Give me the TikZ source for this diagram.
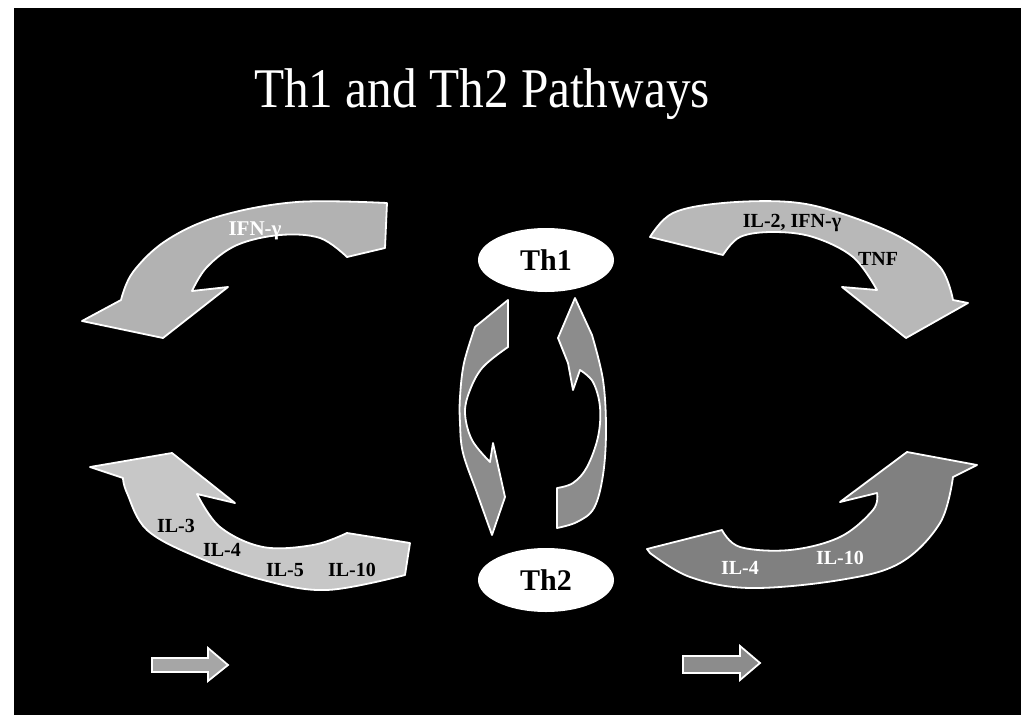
\documentclass[tikz,border=0pt]{standalone}
\usepackage{fontspec}
\setmainfont{Liberation Serif}
\usetikzlibrary{shapes.geometric}
\begin{document}
\begin{tikzpicture}[x=1pt,y=-1pt,
  band/.style={draw=white,line width=1.8pt,line join=round},
  cell/.style={ellipse,fill=white,minimum width=136pt,minimum height=64pt,inner sep=0pt,
    font=\fontsize{30}{32}\selectfont\bfseries,text=black},
  lbl/.style={font=\fontsize{20}{22}\selectfont\bfseries,inner sep=0pt},
  small/.style={draw=white,line width=1.8pt,fill=black!35,line join=miter}
]
\useasboundingbox (0,0) rectangle (1021,715);
\fill[white] (0,0) rectangle (1021,715);
\fill[black] (14,8) rectangle (1021,715);

% title
\node[anchor=base,text=white,font=\fontsize{56}{60}\selectfont,xscale=0.88,inner sep=0pt]
  (title) at (482,107) {Th1 and Th2 Pathways};

% top-left arrow
\path[band,fill=black!30] plot[smooth,tension=0.6] coordinates {(387,203) (297,202) (220,216) (167,240) (133,272) (121,300)}
  -- (82,321) -- (163,338) -- (228,287) -- (192,291)
  -- plot[smooth,tension=0.6] coordinates {(192,291) (207,267) (237,245) (280,235) (320,238) (347,257)}
  -- (385,248) -- cycle;

% top-right arrow
\path[band,fill=black!28] plot[smooth,tension=0.6] coordinates {(650,237) (673,213) (723,203) (790,202) (840,213) (900,237) (940,267) (953,300)}
  -- (968,303) -- (906,338) -- (842,287) -- (877,290)
  -- plot[smooth,tension=0.6] coordinates {(877,290) (853,257) (813,237) (773,232) (740,237) (723,255)}
  -- cycle;

% bottom-left arrow
\path[band,fill=black!22] (172,453) -- (235,503) -- (197,494)
  -- plot[smooth,tension=0.6] coordinates {(197,494) (220,527) (263,547) (313,545) (347,533)}
  -- (410,543) -- (405,575)
  -- plot[smooth,tension=0.6] coordinates {(405,575) (327,590) (263,580) (197,557) (147,530) (127,493) (123,478)}
  -- (90,467) -- cycle;

% bottom-right arrow
\path[band,fill=black!50] (647,549) -- (722,530)
  -- plot[smooth,tension=0.6] coordinates {(722,530) (740,547) (790,550) (840,537) (873,510) (877,493)}
  -- (840,502) -- (907,452) -- (977,465) -- (953,477)
  -- plot[smooth,tension=0.6] coordinates {(953,477) (940,523) (900,563) (840,580) (750,588) (690,577) (650,553)}
  -- cycle;

% middle left (downward) arrow
\path[band,fill=black!45] (475,327) -- (508,300) -- (508,347)
  -- plot[smooth,tension=0.6] coordinates {(508,347) (483,367) (470,390) (465,413) (472,440) (490,462)}
  -- (493,443) -- (505,497) -- (492,535)
  -- plot[smooth,tension=0.6] coordinates {(492,535) (477,493) (463,453) (460,423) (460,397) (464,363) (475,327)}
  -- cycle;

% middle right (upward) arrow
\path[band,fill=black!45] (575,298) -- (558,338) -- (568,363) -- (573,390) -- (580,370)
  -- plot[smooth,tension=0.6] coordinates {(580,370) (593,382) (600,407) (598,437) (587,467) (573,483) (557,488)}
  -- (557,528)
  -- plot[smooth,tension=0.6] coordinates {(557,528) (577,522) (594,508) (603,475) (606,430) (603,380) (592,335)}
  -- cycle;

% cells
\node[cell] (th1) at (546,260) {Th1};
\node[cell] (th2) at (546,580) {Th2};

% labels
\node[lbl,text=white,font=\fontsize{21}{23}\selectfont\bfseries] (ifn) at (255,231) {IFN-γ};
\node[lbl,text=black] (trA) at (792,223) {IL-2, IFN-γ};
\node[lbl,text=black] (trB) at (878,259) {TNF};
\node[lbl,text=black] (bl3) at (176,526) {IL-3};
\node[lbl,text=black] (bl4) at (222,550) {IL-4};
\node[lbl,text=black] (bl5) at (285,570) {IL-5};
\node[lbl,text=black] (bl10) at (352,570) {IL-10};
\node[lbl,text=white] (br4) at (740,568) {IL-4};
\node[lbl,text=white] (br10) at (840,558) {IL-10};

% small legend arrows
\path[small] (152,658) -- (208,658) -- (208,648) -- (228,665) -- (208,681) -- (208,672) -- (152,672) -- cycle;
\path[small,fill=black!45] (683,656) -- (740,656) -- (740,646) -- (760,663) -- (740,680) -- (740,673) -- (683,673) -- cycle;
\end{tikzpicture}
\end{document}
